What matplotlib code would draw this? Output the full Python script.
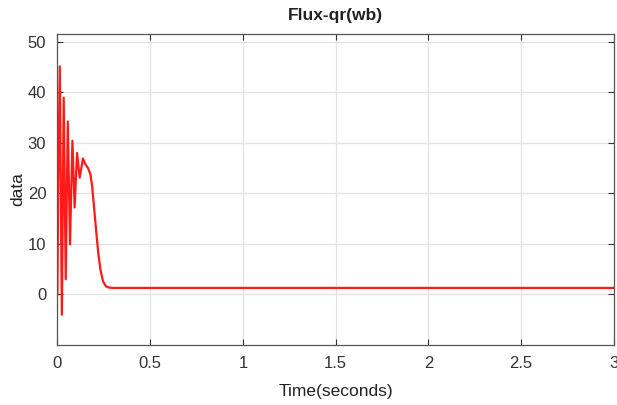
import matplotlib
matplotlib.use("Agg")
import matplotlib.pyplot as plt
from matplotlib import font_manager

plt.rcParams['font.family'] = ['Liberation Sans', 'DejaVu Sans']

time_s = [0.0, 0.004, 0.013, 0.024, 0.034, 0.045, 0.056, 0.068, 0.081, 0.093, 0.106,
          0.120, 0.138, 0.150, 0.165, 0.178, 0.187, 0.197, 0.208, 0.220, 0.232, 0.246,
          0.262, 0.280, 0.300, 0.35, 1.0, 2.0, 3.0]
flux = [0.0, 20.0, 45.1, -4.0, 38.9, 3.0, 34.2, 9.9, 30.4, 17.2, 28.0,
        23.1, 26.9, 25.8, 25.0, 23.8, 21.5, 17.5, 13.0, 8.3, 4.9, 2.6,
        1.6, 1.35, 1.3, 1.3, 1.3, 1.3, 1.3]

xticks = [0, 0.5, 1, 1.5, 2, 2.5, 3]
xticklabels = ['0', '0.5', '1', '1.5', '2', '2.5', '3']
yticks = [0, 10, 20, 30, 40, 50]

fig = plt.figure(figsize=(6.17, 4.05), dpi=100)
ax = fig.add_axes([0.093, 0.148, 0.902, 0.768])
ax.plot(time_s, flux, color='#ff1a1a', lw=1.6)
ax.set_xlim(0, 3)
ax.set_ylim(-10, 51.5)
ax.set_xticks(xticks)
ax.set_xticklabels(xticklabels)
ax.set_yticks(yticks)
ax.grid(True, color='#e3e3e3', lw=0.9)
ax.set_axisbelow(True)
ax.tick_params(direction='in', top=True, right=True, length=4, labelsize=12, colors='#333333', pad=8)
for s in ax.spines.values():
    s.set_color('#555555')
    s.set_linewidth(0.9)
ax.set_title('Flux-qr(wb)', fontsize=12.5, fontweight='bold', color='#222222', pad=10)
ax.set_xlabel('Time(seconds)', fontsize=12.5, color='#222222', labelpad=9)
ax.set_ylabel('data', fontsize=12.5, color='#222222', labelpad=2)
fig.savefig('out.png', dpi=100)
